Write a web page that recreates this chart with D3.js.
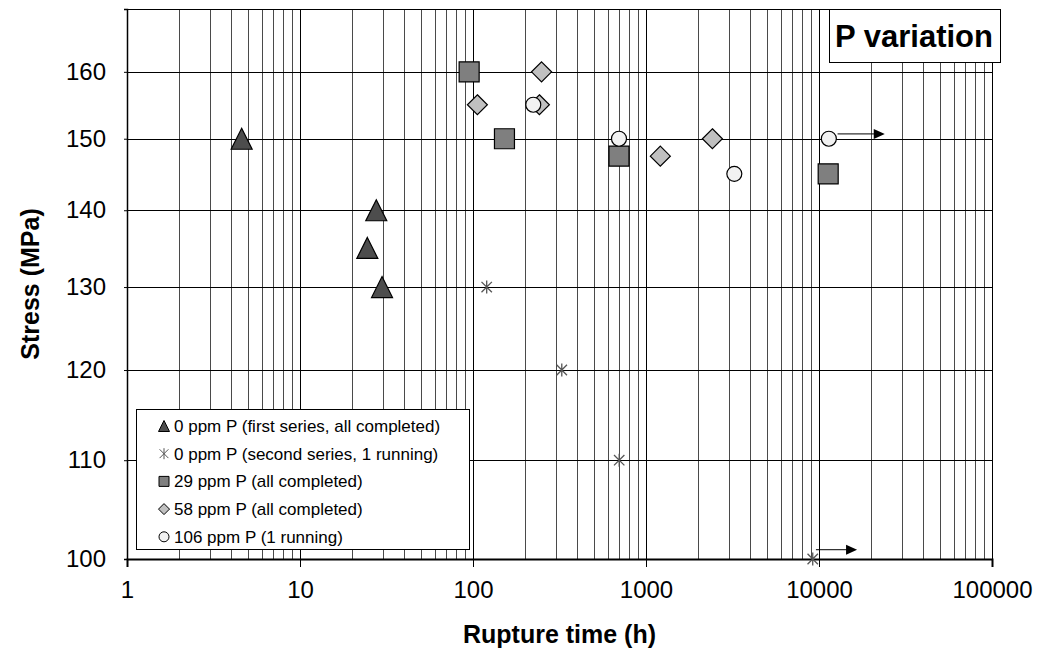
<!DOCTYPE html>
<html><head><meta charset="utf-8">
<script src="https://cdn.jsdelivr.net/npm/d3@7"></script>
<style>
body{margin:0;background:#fff}
text{font-family:"Liberation Sans",Arial,Helvetica,sans-serif;fill:#000}
</style>
</head><body>
<svg id="chart" width="1050" height="650"></svg>
<script>
// ---- data ----
const xTickValues = [1, 10, 100, 1000, 10000, 100000];
const yTickValues = [100, 110, 120, 130, 140, 150, 160];

const series0aTime   = [4.6, 27.6, 24.5, 29.8];
const series0aStress = [150, 140, 135, 130];

const series0bTime   = [120, 326, 700, 9200];
const series0bStress = [130, 120, 110, 100];

const series29Time   = [95, 152, 698, 11300];
const series29Stress = [160, 150, 147.5, 145];

const series58Time   = [106, 249, 242, 1210, 2420];
const series58Stress = [155, 160, 155, 147.5, 150];

const series106Time   = [223, 698, 3240, 11400];
const series106Stress = [155, 150, 145, 150];

// running tests: arrows (start time, end time, stress)
const arrowStartTime = [9600, 12800];
const arrowEndTime   = [16600, 24000];
const arrowStress    = [100.9, 150.7];

const legendLabels = [
  "0 ppm P (first series, all completed)",
  "0 ppm P (second series, 1 running)",
  "29 ppm P (all completed)",
  "58 ppm P (all completed)",
  "106 ppm P (1 running)"
];
const chartTitle = "P variation";

// ---- layout ----
const L = 127, R = 992, T = 9, B = 559;
const svg = d3.select("#chart");
const x = d3.scaleLog().domain([1, 100000]).range([L, R]);
const y = d3.scaleLog().domain([100, 170]).range([B, T]);

// grid: vertical minor/major lines
const vLines = [];
for (let k = 0; k < 5; k++) for (let m = 1; m <= 9; m++) vLines.push(m * Math.pow(10, k));
const g = svg.append("g");
g.selectAll("line.v").data(vLines).enter().append("line")
  .attr("x1", d => Math.round(x(d)) + 0.5).attr("x2", d => Math.round(x(d)) + 0.5)
  .attr("y1", T).attr("y2", B)
  .attr("stroke", (d,i) => (i % 9 === 0) ? "#000" : "#4a4a4a").attr("stroke-width", 1);
g.selectAll("line.h").data(yTickValues.slice(1)).enter().append("line")
  .attr("x1", L).attr("x2", R)
  .attr("y1", d => Math.round(y(d)) + 0.5).attr("y2", d => Math.round(y(d)) + 0.5)
  .attr("stroke", "#000").attr("stroke-width", 1);

// frame
svg.append("rect").attr("x", L + 0.5).attr("y", T + 0.5).attr("width", R - L).attr("height", B - T)
  .attr("fill", "none").attr("stroke", "#000").attr("stroke-width", 1);

// axes
const xAxis = d3.axisBottom(x).tickValues(xTickValues).tickFormat(d3.format("d")).tickSize(8).tickPadding(14);
const gx = svg.append("g").attr("transform", `translate(0,${B})`).call(xAxis);
gx.select(".domain").attr("stroke", "#000").attr("stroke-width", 2);
gx.selectAll(".tick line").attr("stroke", "#000");
gx.selectAll("text").style("font-size", "24px").attr("fill", "#000");

const yAxis = d3.axisLeft(y).tickValues(yTickValues).tickFormat(d3.format("d")).tickSize(3).tickPadding(18);
const gy = svg.append("g").attr("transform", `translate(${L},0)`).call(yAxis);
gy.select(".domain").attr("stroke", "#000").attr("stroke-width", 1.5);
gy.selectAll(".tick line").attr("stroke", "#000");
gy.selectAll("text").style("font-size", "24px").attr("fill", "#000");

// axis titles
svg.append("text").attr("x", (L + R) / 2).attr("y", 643).attr("text-anchor", "middle")
  .style("font-size", "25px").style("font-weight", "bold").text("Rupture time (h)");
svg.append("text").attr("transform", `translate(39,${(T + B) / 2}) rotate(-90)`).attr("text-anchor", "middle")
  .style("font-size", "25px").style("font-weight", "bold").text("Stress (MPa)");

// ---- markers ----
function drawSeries(times, stresses, pathStr, fill, stroke, sw) {
  svg.append("g").selectAll("path").data(times.map((t, i) => [t, stresses[i]])).enter()
    .append("path").attr("d", pathStr)
    .attr("transform", d => `translate(${x(d[0])},${y(d[1])})`)
    .attr("fill", fill).attr("stroke", stroke).attr("stroke-width", sw);
}
function tri(s){ return `M0,${-s/2}L${s/2},${s/2}L${-s/2},${s/2}Z`; }
function square(s){ return `M${-s/2},${-s/2}h${s}v${s}h${-s}Z`; }
function diamond(s){ return `M0,${-s/2}L${s/2},0L0,${s/2}L${-s/2},0Z`; }
function star(s){ const r = s/2, d = r*0.8; return `M0,${-r}V${r}M${-d},${-d}L${d},${d}M${d},${-d}L${-d},${d}`; }
function circle(s){ return d3.arc()({innerRadius:0, outerRadius:s/2, startAngle:0, endAngle:2*Math.PI}); }

// arrows for running tests
const arrows = arrowStartTime.map((t, i) => ({t0: t, t1: arrowEndTime[i], s: arrowStress[i]}));
const ga = svg.append("g");
ga.selectAll("line").data(arrows).enter().append("line")
  .attr("x1", d => x(d.t0)).attr("x2", d => x(d.t1) - 9)
  .attr("y1", d => y(d.s)).attr("y2", d => y(d.s))
  .attr("stroke", "#000").attr("stroke-width", 1);
ga.selectAll("path").data(arrows).enter().append("path")
  .attr("d", d => `M${x(d.t1)},${y(d.s)}L${x(d.t1) - 11},${y(d.s) - 5}L${x(d.t1) - 11},${y(d.s) + 5}Z`)
  .attr("fill", "#000");

drawSeries(series0aTime, series0aStress, tri(21), "#4d4d4d", "#000", 1.2);
drawSeries(series0bTime, series0bStress, star(13), "none", "#555", 1.3);
drawSeries(series29Time, series29Stress, square(20), "#7f7f7f", "#000", 1.2);
drawSeries(series58Time, series58Stress, diamond(20), "#c0c0c0", "#000", 1.2);
drawSeries(series106Time, series106Stress, circle(15), "#f2f2f2", "#000", 1.2);

// ---- legend ----
const lg = svg.append("g");
lg.append("rect").attr("x", 136.5).attr("y", 409.5).attr("width", 333).attr("height", 140)
  .attr("fill", "#fff").attr("stroke", "#000").attr("stroke-width", 1);
const legendSyms = [
  {d: tri(11), fill: "#4d4d4d", stroke: "#000"},
  {d: star(11), fill: "none", stroke: "#555"},
  {d: square(10), fill: "#7f7f7f", stroke: "#000"},
  {d: diamond(11), fill: "#c0c0c0", stroke: "#000"},
  {d: circle(10), fill: "#f2f2f2", stroke: "#000"}
];
legendLabels.forEach((lab, i) => {
  const cy = 426 + i * 27.7;
  lg.append("path").attr("d", legendSyms[i].d).attr("transform", `translate(164,${cy})`)
    .attr("fill", legendSyms[i].fill).attr("stroke", legendSyms[i].stroke).attr("stroke-width", 1);
  lg.append("text").attr("x", 174).attr("y", cy + 6).style("font-size", "17px").text(lab);
});

// ---- title box ----
svg.append("rect").attr("x", 829.5).attr("y", 9.5).attr("width", 171).attr("height", 53)
  .attr("fill", "#fff").attr("stroke", "#000").attr("stroke-width", 1);
svg.append("text").attr("x", 914).attr("y", 47).attr("text-anchor", "middle")
  .style("font-size", "31px").style("font-weight", "bold").text(chartTitle);
</script>
</body></html>
